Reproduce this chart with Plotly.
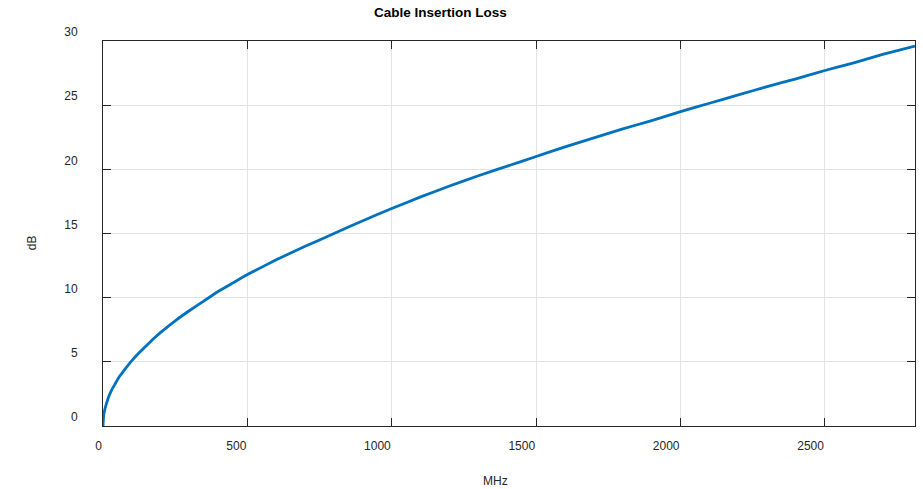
import plotly.graph_objects as go

# Frequency (MHz) and insertion loss (dB)
freq_mhz = [0, 2, 5, 10, 20, 30, 40, 50, 60, 75, 100, 125, 150, 175, 200, 250,
            300, 350, 400, 450, 500, 600, 700, 800, 900, 1000, 1100, 1200, 1300,
            1400, 1500, 1600, 1700, 1800, 1900, 2000, 2100, 2200, 2300, 2400,
            2500, 2600, 2700, 2812]
loss_db = [0, 0.75, 1.15, 1.6, 2.3, 2.8, 3.2, 3.6, 3.95, 4.4, 5.1, 5.7, 6.25,
           6.8, 7.3, 8.2, 9.0, 9.75, 10.5, 11.15, 11.8, 12.95, 14.0, 15.0, 16.0,
           16.95, 17.85, 18.7, 19.5, 20.25, 21.0, 21.75, 22.45, 23.15, 23.8,
           24.5, 25.15, 25.8, 26.45, 27.05, 27.7, 28.3, 28.95, 29.6]

x_ticks = [0, 500, 1000, 1500, 2000, 2500]
y_ticks = [0, 5, 10, 15, 20, 25, 30]

title_text = "Cable Insertion Loss"
x_label = "MHz"
y_label = "dB"

FONT = "Liberation Sans, Arial, Helvetica, sans-serif"
AX = "#262626"
GRID = "#e3e3e3"

fig = go.Figure()
fig.add_trace(go.Scatter(x=freq_mhz, y=loss_db, mode="lines",
                         line=dict(color="#0072BD", width=2.8, shape="spline", smoothing=0.3),
                         showlegend=False, hoverinfo="skip"))

axis_common = dict(showline=True, linecolor=AX, linewidth=1, mirror="ticks",
                   ticks="inside", ticklen=8, tickcolor=AX, tickwidth=1,
                   showgrid=True, gridcolor=GRID, gridwidth=1, zeroline=False,
                   automargin=False,
                   tickfont=dict(family=FONT, size=12, color=AX))

fig.update_xaxes(range=[0, 2812], tickvals=x_ticks, ticktext=[str(v) for v in x_ticks],
                 ticklabelposition="outside left", ticklabelstandoff=9, **axis_common)
fig.update_yaxes(range=[0, 30], tickvals=y_ticks, ticktext=[str(v) for v in y_ticks],
                 ticklabelposition="outside top", ticklabelstandoff=22, **axis_common)

fig.update_layout(
    width=923, height=489,
    margin=dict(l=103, r=8, t=41, b=63),
    paper_bgcolor="white", plot_bgcolor="white",
    font=dict(family=FONT, size=12, color=AX),
    annotations=[
        dict(text="<b>" + title_text + "</b>", xref="paper", yref="paper",
             x=0.416, y=1.075, xanchor="center", yanchor="middle", showarrow=False,
             font=dict(family=FONT, size=13.5, color="black")),
        dict(text=x_label, xref="paper", yref="paper", x=0.483, y=-0.143,
             xanchor="center", yanchor="middle", showarrow=False,
             font=dict(family=FONT, size=12, color=AX)),
        dict(text=y_label, xref="paper", yref="paper", x=-0.0874, y=0.475,
             xanchor="center", yanchor="middle", showarrow=False, textangle=-90,
             font=dict(family=FONT, size=12, color=AX)),
    ],
)

fig.write_html("out.html",
               config={"displayModeBar": False},
               post_script="document.body.style.margin='0';document.body.style.overflow='hidden';")
